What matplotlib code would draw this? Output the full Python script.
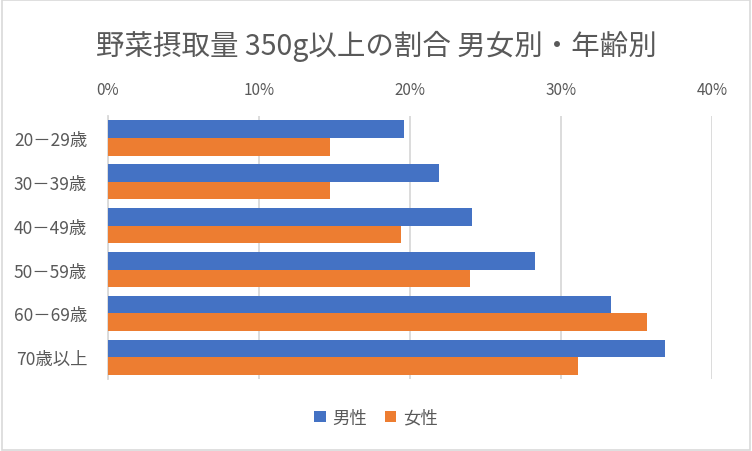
import numpy as np
import matplotlib
matplotlib.use("Agg")
import matplotlib.pyplot as plt
from matplotlib.patches import Rectangle

plt.rcParams['font.family'] = ['Noto Sans CJK JP', 'DejaVu Sans']

# データ（%）
categories = ["20－29歳", "30－39歳", "40－49歳", "50－59歳", "60－69歳", "70歳以上"]
male = [19.6, 21.9, 24.1, 28.3, 33.3, 36.9]
female = [14.7, 14.7, 19.4, 24.0, 35.7, 31.1]
series_names = ["男性", "女性"]
xticks = [0, 10, 20, 30, 40]

blue = "#4472C4"
orange = "#ED7D31"
grid_c = "#D9D9D9"
text_c = "#595959"

fig = plt.figure(figsize=(7.52, 4.52), dpi=100)
ax = fig.add_axes([0.1436, 0.159, 0.8032, 0.582])

y = np.arange(len(categories))
h = 0.4
ax.barh(y - h / 2, male, height=h, color=blue, label=series_names[0], zorder=3)
ax.barh(y + h / 2, female, height=h, color=orange, label=series_names[1], zorder=3)

ax.set_ylim(len(categories) - 0.5, -0.5)
ax.set_xlim(0, 40)
ax.set_yticks(y)
ax.set_yticklabels(categories, fontsize=12.5, color=text_c)
ax.set_xticks(xticks)
ax.set_xticklabels([f"{v}%" for v in xticks], fontsize=11, color=text_c)
ax.xaxis.tick_top()
ax.tick_params(axis='both', length=0)
ax.tick_params(axis='x', pad=13)
ax.tick_params(axis='y', pad=15)

ax.grid(axis='x', color=grid_c, linewidth=1.3, zorder=0)
for side in ['top', 'right', 'bottom']:
    ax.spines[side].set_visible(False)
ax.spines['left'].set_color(grid_c)
ax.spines['left'].set_linewidth(1.3)

fig.text(0.5, 0.898, "野菜摂取量 350g以上の割合 男女別・年齢別",
         ha='center', va='center', fontsize=20.5, color=text_c)

fig.legend(loc='center', bbox_to_anchor=(0.5, 0.074), ncol=2, frameon=False,
           fontsize=12.5, labelcolor=text_c, handlelength=0.65, handleheight=0.65,
           handletextpad=0.4, columnspacing=1.0)

fig.patches.append(Rectangle((0.002, 0.003), 0.996, 0.994, transform=fig.transFigure,
                             fill=False, edgecolor=grid_c, linewidth=1.2))

fig.savefig("out.png", dpi=100)
